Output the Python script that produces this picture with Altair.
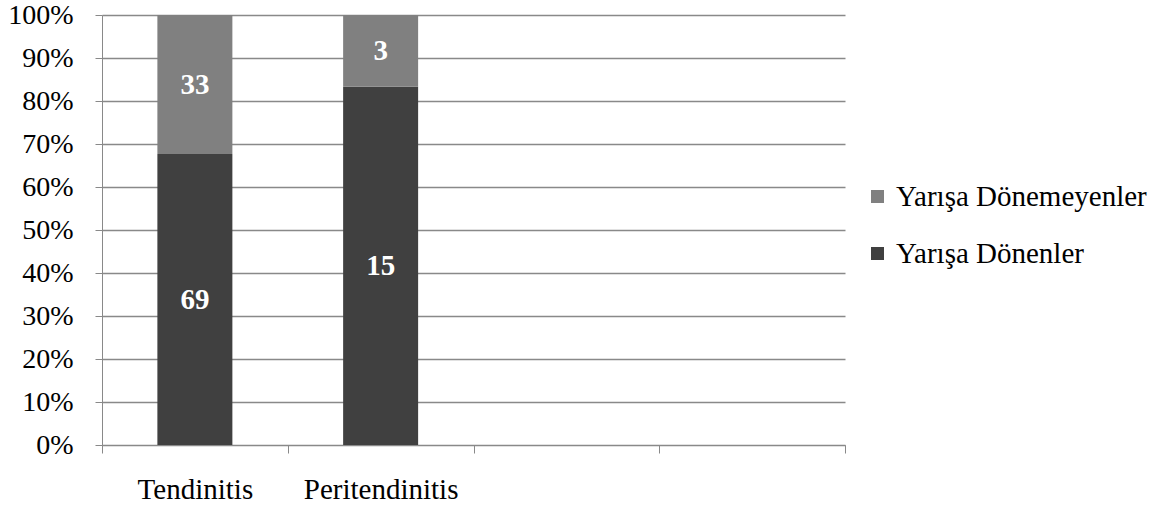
import altair as alt
import pandas as pd

# Kategoriler (son iki yuva boş bırakılır)
kategoriler = ["Tendinitis", "Peritendinitis", " ", "  "]
gruplar = ["Yarışa Dönenler", "Yarışa Dönemeyenler"]
sira = [1, 2]
donenler = [69, 15]
donemeyenler = [33, 3]
renkler = {"Yarışa Dönemeyenler": "#808080", "Yarışa Dönenler": "#404040"}

satirlar = []
for i, kat in enumerate(kategoriler[:2]):
    satirlar.append({"kategori": kat, "grup": gruplar[0], "sira": sira[0], "deger": donenler[i]})
    satirlar.append({"kategori": kat, "grup": gruplar[1], "sira": sira[1], "deger": donemeyenler[i]})
df = pd.DataFrame(satirlar)

FONT = "Liberation Serif"
GRI = "#898989"

base = alt.Chart(df).transform_stack(
    stack="deger",
    groupby=["kategori"],
    as_=["y0", "y1"],
    offset="normalize",
    sort=[alt.SortField("sira", order="ascending")],
)

x_enc = alt.X(
    "kategori:N",
    scale=alt.Scale(domain=kategoriler, paddingInner=0, paddingOuter=0),
    sort=kategoriler,
    axis=alt.Axis(
        title=None,
        labelAngle=0,
        labelFontSize=29,
        labelPadding=22,
        tickBand="extent",
        tickSize=8,
        grid=False,
    ),
)

bars = base.mark_bar(size=75).encode(
    x=x_enc,
    y=alt.Y(
        "y0:Q",
        scale=alt.Scale(domain=[0, 1]),
        axis=alt.Axis(
            title=None,
            values=[i / 10 for i in range(11)],
            format=".0%",
            labelFontSize=28,
            labelPadding=22,
            tickSize=7,
            gridColor=GRI,
            gridWidth=1.5,
        ),
    ),
    y2="y1:Q",
    color=alt.Color(
        "grup:N",
        scale=alt.Scale(domain=list(renkler.keys()), range=list(renkler.values())),
        legend=alt.Legend(
            title=None,
            orient="none",
            legendX=761,
            legendY=167,
            symbolType="square",
            symbolSize=169,
            symbolStrokeWidth=0,
            labelOffset=4,
            labelLimit=400,
            rowPadding=27,
        ),
    ),
)

etiketler = base.transform_calculate(orta="(datum.y0 + datum.y1) / 2").mark_text(
    font=FONT, fontSize=29, fontWeight="bold", color="white", baseline="middle"
).encode(
    x=alt.X("kategori:N", sort=kategoriler),
    y=alt.Y("orta:Q"),
    text=alt.Text("deger:Q"),
)

chart = (
    alt.layer(bars, etiketler)
    .properties(
        width=743,
        height=430,
        autosize=alt.AutoSizeParams(type="none"),
        padding={"left": 102, "top": 15, "right": 318, "bottom": 65},
    )
    .configure(font=FONT)
    .configure_view(stroke=None)
    .configure_axis(
        labelFont=FONT,
        labelColor="black",
        tickColor=GRI,
        domainColor=GRI,
        gridOpacity=1,
    )
    .configure_legend(labelFont=FONT, labelFontSize=29, labelColor="black")
)

chart.save("out.html", embed_options={"renderer": "svg", "actions": False})
